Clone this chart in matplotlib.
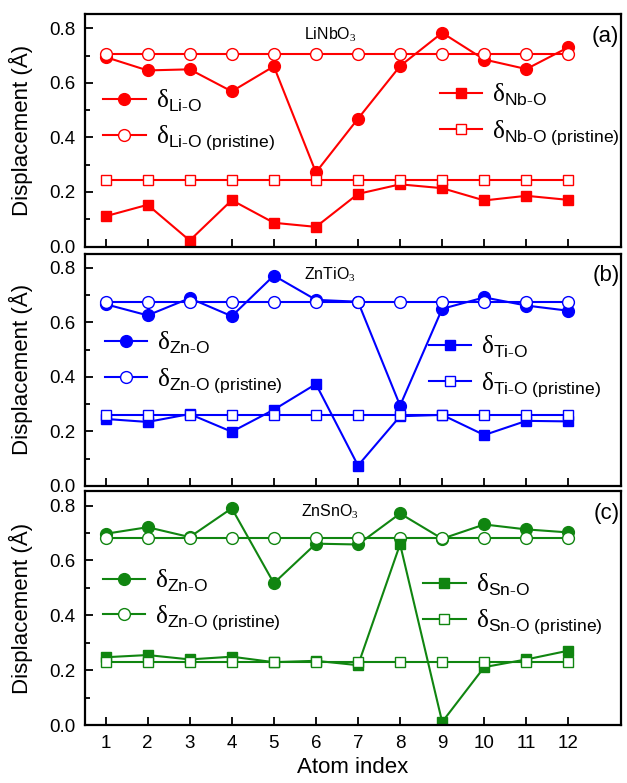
import matplotlib
matplotlib.use("Agg")
import matplotlib.pyplot as plt
from matplotlib.ticker import MultipleLocator, FormatStrFormatter

atoms = list(range(1, 13))

# Panel (a) LiNbO3
li_o = [0.695, 0.646, 0.650, 0.569, 0.661, 0.272, 0.469, 0.662, 0.784, 0.686, 0.651, 0.731]
li_o_pristine = [0.708] * 12
nb_o = [0.111, 0.153, 0.022, 0.170, 0.087, 0.072, 0.193, 0.228, 0.214, 0.169, 0.186, 0.171]
nb_o_pristine = [0.245] * 12

# Panel (b) ZnTiO3
zn_o_b = [0.667, 0.626, 0.689, 0.623, 0.772, 0.683, 0.676, 0.295, 0.650, 0.692, 0.662, 0.643]
zn_o_b_pristine = [0.676] * 12
ti_o = [0.246, 0.235, 0.264, 0.199, 0.280, 0.374, 0.075, 0.256, 0.261, 0.187, 0.239, 0.237]
ti_o_pristine = [0.259] * 12

# Panel (c) ZnSnO3
zn_o_c = [0.697, 0.721, 0.685, 0.790, 0.517, 0.661, 0.658, 0.771, 0.679, 0.731, 0.713, 0.702]
zn_o_c_pristine = [0.680] * 12
sn_o = [0.247, 0.255, 0.239, 0.249, 0.229, 0.234, 0.218, 0.659, 0.011, 0.211, 0.239, 0.271]
sn_o_pristine = [0.229] * 12

titles = ["LiNbO$_3$", "ZnTiO$_3$", "ZnSnO$_3$"]
tags = ["(a)", "(b)", "(c)"]
colors = ["#ff0000", "#0000ff", "#108510"]
A_names = ["Li", "Zn", "Zn"]
B_names = ["Nb", "Ti", "Sn"]

plt.rcParams['font.family'] = ['Liberation Sans', 'DejaVu Sans']
plt.rcParams['mathtext.fontset'] = 'custom'
plt.rcParams['mathtext.rm'] = 'Liberation Serif'
plt.rcParams['mathtext.it'] = 'Liberation Sans:italic'
plt.rcParams['mathtext.sf'] = 'Liberation Sans'

fig = plt.figure(figsize=(6.27, 7.83), dpi=100)
W, H = 627, 783
left, right = 84.5, 621
panels_px = [(14, 246.5), (253.5, 486), (491, 725)]

data = [
    (li_o, li_o_pristine, nb_o, nb_o_pristine),
    (zn_o_b, zn_o_b_pristine, ti_o, ti_o_pristine),
    (zn_o_c, zn_o_c_pristine, sn_o, sn_o_pristine),
]
leg_left = [(0.0345, 0.544), (0.038, 0.533), (0.034, 0.535)]
leg_right = [(0.6626, 0.568), (0.642, 0.514), (0.631, 0.517)]

for i, (top, bot) in enumerate(panels_px):
    ax = fig.add_axes([left / W, 1 - bot / H, (right - left) / W, (bot - top) / H])
    c = colors[i]
    a, ap, b, bp = data[i]
    kw = dict(color=c, lw=1.5, markeredgewidth=1.0)
    la, = ax.plot(atoms, a, marker='o', mfc=c, mec=c, markersize=8.5, **kw)
    lap, = ax.plot(atoms, ap, marker='o', mfc='white', mec=c, markersize=8.5, **kw)
    lb, = ax.plot(atoms, b, marker='s', mfc=c, mec=c, markersize=7.5, **kw)
    lbp, = ax.plot(atoms, bp, marker='s', mfc='white', mec=c, markersize=7.5, **kw)

    ax.set_xlim(0.5, 13.25)
    ax.set_ylim(0, 0.853)
    ax.yaxis.set_major_locator(MultipleLocator(0.2))
    ax.yaxis.set_minor_locator(MultipleLocator(0.1))
    ax.yaxis.set_major_formatter(FormatStrFormatter('%.1f'))
    ax.set_xticks(atoms)
    ax.tick_params(which='both', direction='in', top=False, right=False, labelsize=13.5, width=1.3)
    ax.tick_params(which='major', length=6)
    ax.tick_params(which='minor', length=3.5)
    ax.tick_params(axis='y', pad=6.5)
    ax.tick_params(axis='x', pad=7)
    for s in ax.spines.values():
        s.set_linewidth(1.6)
    if i < 2:
        ax.tick_params(axis='x', labelbottom=False)
    else:
        ax.set_xlabel("Atom index", fontsize=16, labelpad=4)
    ax.set_ylabel("Displacement (Å)", fontsize=16, labelpad=12)

    ax.text(0.4576, 0.91, titles[i], transform=ax.transAxes, ha='center', va='center', fontsize=11.5)
    ax.text(0.997, 0.905, tags[i], transform=ax.transAxes, ha='right', va='center', fontsize=16)

    An, Bn = A_names[i], B_names[i]
    lab_a = r'$\mathrm{\delta}_{\mathsf{%s\text{-}O}}$' % An
    lab_ap = r'$\mathrm{\delta}_{\mathsf{%s\text{-}O}\ \mathsf{(pristine)}}$' % An
    lab_b = r'$\mathrm{\delta}_{\mathsf{%s\text{-}O}}$' % Bn
    lab_bp = r'$\mathrm{\delta}_{\mathsf{%s\text{-}O}\ \mathsf{(pristine)}}$' % Bn
    legkw = dict(frameon=False, fontsize=18, handlelength=1.7, handletextpad=0.4,
                 borderpad=0, borderaxespad=0, labelspacing=0.4, loc='center left')
    l1 = ax.legend([la, lap], [lab_a, lab_ap], bbox_to_anchor=leg_left[i], **legkw)
    ax.add_artist(l1)
    ax.legend([lb, lbp], [lab_b, lab_bp], bbox_to_anchor=leg_right[i], **legkw)

fig.savefig("out.png", dpi=100)
